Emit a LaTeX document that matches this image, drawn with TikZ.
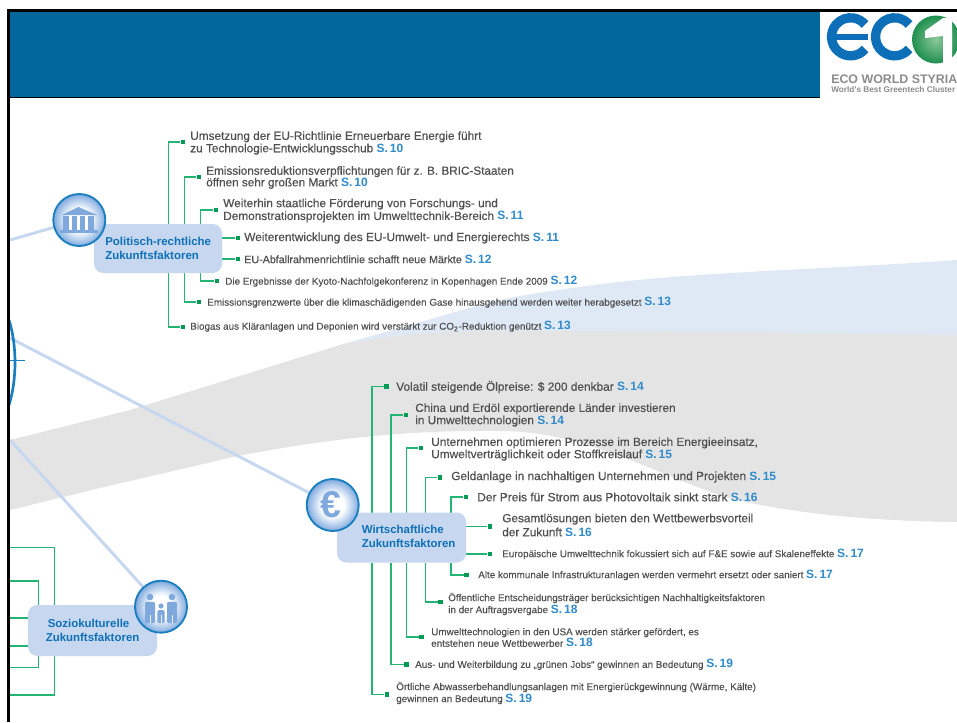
\documentclass[tikz,border=0pt]{standalone}
\usepackage{fontspec}
\setmainfont{Liberation Sans}
\newfontface\medf{Liberation Sans}[FakeBold=0.45]
\newfontface\lowf{Liberation Sans}[FakeBold=0.12]
\newfontface\hubf{Liberation Sans Bold}
\usetikzlibrary{calc}
\definecolor{bannerblue}{HTML}{00669C}
\definecolor{hubfill}{HTML}{C6D7EF}
\definecolor{hubtext}{HTML}{0F70B8}
\definecolor{linkblue}{HTML}{C6D7EF}
\definecolor{conn}{HTML}{22B573}
\definecolor{sqgreen}{HTML}{009B55}
\definecolor{itemtext}{HTML}{505050}
\definecolor{pageref}{HTML}{2F8BCB}
\definecolor{grayband}{HTML}{E4E4E4}
\definecolor{blueband}{HTML}{DFE9F5}
\definecolor{ring}{HTML}{1A7FC1}
\definecolor{iconblue}{HTML}{7FA9DD}
\definecolor{logoblue}{HTML}{0D6FB8}
\definecolor{logogreen}{HTML}{1E8F4E}
\definecolor{logolight}{HTML}{8CC79A}
\definecolor{logogray}{HTML}{8C8C8C}
\definecolor{ballmid}{HTML}{C9DBF2}
\pgfdeclareradialshading{ballshade}{\pgfpointorigin}{color(0bp)=(white); color(11bp)=(white); color(17bp)=(ballmid); color(25bp)=(iconblue); color(50bp)=(iconblue)}
\newcommand{\sz}[2]{\fontsize{#1}{#2}\selectfont}
\newcommand{\Sref}[1]{{\hubf\sz{9}{9}\color{pageref}S.\,#1}}
\tikzset{
  x=0.75pt,y=-0.75pt,
  item/.style={anchor=west,inner sep=0pt,align=left,text=itemtext},
  big/.style={font=\medf\sz{#1}{9.2}},
  small/.style={font=\lowf\sz{7.4}{#1}},
  hublabel/.style={inner sep=0pt,text=hubtext,font=\hubf\sz{8.6}{10.6}},
  sq/.style={fill=sqgreen,draw=none,inner sep=0pt,minimum size=3.6pt,rectangle},
  cl/.style={draw=conn,line width=1.1pt},
  link/.style={draw=linkblue,line width=2.2pt},
  hubbox/.style={fill=hubfill,draw=none,rounded corners=7pt,inner sep=0pt},
  ball/.style={circle,minimum size=39pt,inner sep=0pt,draw=ring,line width=1.4pt,shade,shading=ballshade},
  iconshape/.style={fill=iconblue,draw=none}
}
\begin{document}
\begin{tikzpicture}
\useasboundingbox (0,0) rectangle (957,722);
\fill[white] (0,0) rectangle (957,722);
% background swooshes
\fill[blueband] (340,345) -- (487,303) .. controls (520,295) and (550,291) .. (580,287) .. controls (680,272) and (820,270) .. (957,260) -- (957,340) -- (600,336) -- cycle;
\fill[grayband] (10,440) -- (130,410) -- (340,345) .. controls (400,333) and (450,331) .. (500,331) .. controls (640,331) and (800,332) .. (957,335) -- (957,522)
  .. controls (880,521) and (800,515) .. (733,499) .. controls (660,478) and (590,431) .. (500,431) .. controls (420,430) and (340,436) .. (233,457) -- (100,488) -- (10,510) -- cycle;
% free ends
\coordinate (lft1) at (10,240);
\coordinate (lft2) at (10,338);
\coordinate (lft3) at (10,440);
\coordinate (tk1) at (168.5,0); \coordinate (tk2) at (184.5,0); \coordinate (tk3) at (200.5,0);
\coordinate (wk1) at (372,0); \coordinate (wk2) at (391,0); \coordinate (wk3) at (406.3,0); \coordinate (wk4) at (425.3,0); \coordinate (wk5) at (451,0);
\coordinate (zk1) at (54.5,0); \coordinate (zk2) at (38.3,0);
\coordinate (e1) at (10,547.7); \coordinate (e2) at (10,581); \coordinate (e3) at (10,618); \coordinate (e4) at (10,646); \coordinate (e5) at (10,667.7); \coordinate (e6) at (10,695);
% squares
\foreach \n/\x/\y in {p1/183/142,p2/199/177,p3/216/210,p4/238/238,p5/238/259,p6/217/281,p7/199/302,p8/183/327,
  w1/386.7/386.7,w2/406/415,w3/421/448,w4/440/477.7,w5/466/497,w6/490/526.7,w7/490/554,w8/466.7/575,w9/440.7/602,w10/421.3/637,w11/406.7/664.7,w12/387/694.7}
  \node[sq] (\n) at (\x,\y) {};
% links (under the balls)
\coordinate (cPc) at (79.3,220); \coordinate (cWc) at (332.7,505); \coordinate (cZc) at (161,606.7);
\draw[link] (lft1) -- (cPc);
\draw[link] (lft2) -- (cWc);
\draw[link] (lft3) -- (cZc);
% hub geometry: green connectors are drawn first, the boxes cover their ends
\coordinate (hPn) at (158,224); \coordinate (hPs) at (158,273); \coordinate (hPe) at (222,248);
\coordinate (hWn) at (401.5,512.5); \coordinate (hWs) at (401.5,562.5); \coordinate (hWe) at (466,537);
\coordinate (hZn) at (92.5,605); \coordinate (hZs) at (92.5,656); \coordinate (hZw) at (28,630);
\draw[cl] (hPn -| tk1) |- (p1);
\draw[cl] (hPn -| tk2) |- (p2);
\draw[cl] (hPn -| tk3) |- (p3);
\draw[cl] (hPs -| tk1) |- (p8);
\draw[cl] (hPs -| tk2) |- (p7);
\draw[cl] (hPs -| tk3) |- (p6);
\draw[cl] (hPe |- p4) -- (p4);
\draw[cl] (hPe |- p5) -- (p5);
\draw[cl] (hWn -| wk1) |- (w1);
\draw[cl] (hWn -| wk2) |- (w2);
\draw[cl] (hWn -| wk3) |- (w3);
\draw[cl] (hWn -| wk4) |- (w4);
\draw[cl] (hWn -| wk5) |- (w5);
\draw[cl] (hWe |- w6) -- (w6);
\draw[cl] (hWe |- w7) -- (w7);
\draw[cl] (hWs -| wk5) |- (w8);
\draw[cl] (hWs -| wk4) |- (w9);
\draw[cl] (hWs -| wk3) |- (w10);
\draw[cl] (hWs -| wk2) |- (w11);
\draw[cl] (hWs -| wk1) |- (w12);
\draw[cl] (hZn -| zk1) |- (e1);
\draw[cl] (hZn -| zk2) |- (e2);
\draw[cl] (hZw |- e3) -- (e3);
\draw[cl] (hZw |- e4) -- (e4);
\draw[cl] (hZs -| zk2) |- (e5);
\draw[cl] (hZs -| zk1) |- (e6);
% hubs
\node[hubbox,minimum width=96pt,minimum height=36.75pt] (hubP) at (158,248.5) {};
\node[hubbox,minimum width=96.75pt,minimum height=37.5pt] (hubW) at (401.5,537.5) {};
\node[hubbox,minimum width=96.75pt,minimum height=38.25pt] (hubZ) at (92.5,630.5) {};
% balls
\node[ball] (cP) at (cPc) {};
\node[ball] (cW) at (cWc) {};
\node[ball] (cZ) at (cZc) {};
% hub labels
\node[hublabel,anchor=west,align=left] (lP) at (105,248) {Politisch-rechtliche\\Zukunftsfaktoren};
\node[hublabel,anchor=west,align=left] (lW) at (361.5,536.5) {Wirtschaftliche\\Zukunftsfaktoren};
\node[hublabel,anchor=west,align=left] (lZ) at (45.5,630) {\hspace*{1.5pt}Soziokulturelle\\Zukunftsfaktoren};
% icons
\fill[iconshape] (78.5,207) -- (97,215) -- (62,215) -- cycle;
\foreach \xx in {66,74.3,82.6,91} \fill[iconshape] (\xx-2.6,216) rectangle (\xx+2.6,229.5);
\fill[iconshape] (60,230) rectangle (98,233);
\node[inner sep=0pt,text=iconblue,font=\hubf\sz{28}{28}] (euro) at (331,505) {€};
\foreach \xx/\yy/\r/\w/\b in {150/597/3.3/5/623,172/597/3.3/5/623,161/606/2.6/3.6/623}{
  \fill[iconshape] (\xx,\yy) circle[radius=\r];
  \fill[iconshape,rounded corners=1pt] (\xx-\w,\yy+\r+1.5) rectangle (\xx+\w,\b);
  \fill[white!85!iconblue] (\xx-0.5,\b-8) rectangle (\xx+0.5,\b);
}
% left partial hub
\draw[ring,line width=2pt] (9,320) .. controls (17,345) and (17,380) .. (9,405);
\draw[ring,line width=0.6pt] (10,360) -- (25,360);
% items
\node[item,font=\medf\sz{8.85}{9.3}] (t1) at (190,143) {Umsetzung der EU-Richtlinie Erneuerbare Energie führt\\zu Technologie-Entwicklungsschub \Sref{10}};
\node[item,font=\medf\sz{8.8}{8.7}] (t2) at (206,177.5) {Emissionsreduktionsverpflichtungen für z. B. BRIC-Staaten\\öffnen sehr großen Markt \Sref{10}};
\node[item,font=\medf\sz{8.85}{9.6}] (t3) at (223,210.5) {Weiterhin staatliche Förderung von Forschungs- und\\Demonstrationsprojekten im Umwelttechnik-Bereich \Sref{11}};
\node[item,font=\medf\sz{8.9}{10}] (t4) at (244,238) {Weiterentwicklung des EU-Umwelt- und Energierechts \Sref{11}};
\node[item,font=\medf\sz{8.03}{9}] (t5) at (244,259) {EU-Abfallrahmenrichtlinie schafft neue Märkte \Sref{12}};
\node[item,small=9] (t6) at (225,281.5) {Die Ergebnisse der Kyoto-Nachfolgekonferenz in Kopenhagen Ende 2009 \Sref{12}};
\node[item,small=9] (t7) at (207,302.5) {Emissionsgrenzwerte über die klimaschädigenden Gase hinausgehend werden weiter herabgesetzt \Sref{13}};
\node[item,small=9] (t8) at (190,326.5) {Biogas aus Kläranlagen und Deponien wird verstärkt zur CO\textsubscript{2}-Reduktion genützt \Sref{13}};
\node[item,big=8.9] (x1) at (396,387) {Volatil steigende Ölpreise: \$ 200 denkbar \Sref{14}};
\node[item,big=8.85] (x2) at (415,415) {China und Erdöl exportierende Länder investieren\\in Umwelttechnologien \Sref{14}};
\node[item,big=8.87] (x3) at (431,449) {Unternehmen optimieren Prozesse im Bereich Energieeinsatz,\\Umweltverträglichkeit oder Stoffkreislauf \Sref{15}};
\node[item,big=8.88] (x4) at (451,477) {Geldanlage in nachhaltigen Unternehmen und Projekten \Sref{15}};
\node[item,big=8.96] (x5) at (477,497) {Der Preis für Strom aus Photovoltaik sinkt stark \Sref{16}};
\node[item,font=\medf\sz{8.85}{10.5}] (x6) at (502,525) {Gesamtlösungen bieten den Wettbewerbsvorteil\\der Zukunft \Sref{16}};
\node[item,small=9] (x7) at (502,554) {Europäische Umwelttechnik fokussiert sich auf F\&E sowie auf Skaleneffekte \Sref{17}};
\node[item,small=9] (x8) at (478,575) {Alte kommunale Infrastrukturanlagen werden vermehrt ersetzt oder saniert \Sref{17}};
\node[item,small=9] (x9) at (448,604) {Öffentliche Entscheidungsträger berücksichtigen Nachhaltigkeitsfaktoren\\in der Auftragsvergabe \Sref{18}};
\node[item,small=8.7] (x10) at (431,637.5) {Umwelttechnologien in den USA werden stärker gefördert, es\\entstehen neue Wettbewerber \Sref{18}};
\node[item,small=9] (x11) at (415,664.7) {Aus- und Weiterbildung zu „grünen Jobs“ gewinnen an Bedeutung \Sref{19}};
\node[item,small=9] (x12) at (396,693) {Örtliche Abwasserbehandlungsanlagen mit Energierückgewinnung (Wärme, Kälte)\\gewinnen an Bedeutung \Sref{19}};
% banner
\fill[bannerblue] (10,12) rectangle (820,97);
\draw[black,line width=0.8pt] (9,97.5) -- (820,97.5);
% logo
\begin{scope}
\clip (820,11.5) rectangle (957,100);
\draw[logoblue,line width=7pt] (865.1,49) arc[start angle=40,end angle=320,radius=19];
\fill[logoblue] (835,33.5) rectangle (868,40);
\draw[logoblue,line width=7pt] (909.1,49) arc[start angle=40,end angle=320,radius=19];
\shade[inner color=logolight,outer color=logogreen] (936,39.5) circle[radius=24];
\fill[white] (925,31) -- (943,18) -- (952,18) -- (952,63) -- (943,63) -- (943,36) -- (925,38) -- cycle;
\end{scope}
\fill[black] (7,9) rectangle (957,11.5);
\fill[black] (7,9) rectangle (9.8,722);
\node[inner sep=0pt,anchor=west,text=logogray,font=\hubf\sz{9.3}{10}] (logo1) at (831,79) {ECO WORLD STYRIA};
\node[inner sep=0pt,anchor=west,text=logogray,font=\hubf\sz{6.2}{7}] (logo2) at (831,90) {World's Best Greentech Cluster};
\end{tikzpicture}
\end{document}
